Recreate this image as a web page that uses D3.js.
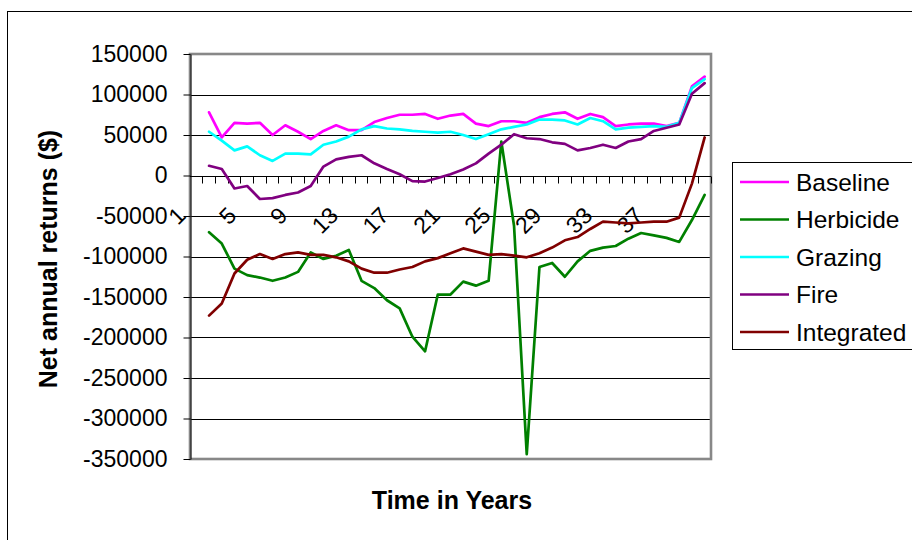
<!DOCTYPE html>
<html>
<head>
<meta charset="utf-8">
<script src="https://cdn.jsdelivr.net/npm/d3@7"></script>
<style>
  html, body { margin: 0; padding: 0; background: #fff; }
  svg { display: block; font-family: "Liberation Sans", Arial, sans-serif; }
</style>
</head>
<body>
<svg id="chart" width="912" height="540"></svg>
<script>
// Net annual returns by management strategy, years 1-40
const years = d3.range(1, 41);

const baseline = [78000, 47000, 65000, 64000, 65000, 50000, 62000, 54000, 45000, 55000,
  62000, 56000, 56000, 66000, 71000, 75000, 75000, 76000, 70000, 74000,
  76000, 64000, 61000, 67000, 67000, 65000, 72000, 76000, 78000, 70000,
  76000, 72000, 61000, 63000, 64000, 64000, 61000, 65000, 110000, 122000];

const herbicide = [-70000, -84000, -115000, -123000, -126000, -130000, -126000, -119000, -95000, -103000,
  -99000, -92000, -130000, -139000, -154000, -164000, -199000, -217000, -147000, -147000,
  -131000, -136000, -130000, 42000, -62000, -344000, -113000, -108000, -125000, -106000,
  -93000, -89000, -87000, -78000, -71000, -74000, -77000, -82000, -55000, -24000];

const grazing = [54000, 43000, 31000, 36000, 25000, 18000, 27000, 27000, 26000, 38000,
  42000, 48000, 57000, 61000, 58000, 57000, 55000, 54000, 53000, 54000,
  50000, 45000, 51000, 57000, 60000, 63000, 69000, 69000, 68000, 63000,
  71000, 67000, 57000, 59000, 60000, 61000, 60000, 65000, 108000, 119000];

const fire = [12000, 8000, -16000, -13000, -29000, -28000, -24000, -21000, -13000, 11000,
  20000, 23000, 25000, 15000, 8000, 1500, -7000, -7500, -3000, 1500,
  7500, 15000, 27000, 38000, 51000, 46000, 45000, 41000, 39000, 31000,
  34000, 38000, 34000, 42000, 45000, 55000, 59000, 63000, 101000, 114000];

const integrated = [-173000, -158000, -121000, -104000, -97000, -103000, -97000, -95000, -98000, -98000,
  -101000, -106000, -115000, -120000, -120000, -116000, -113000, -106000, -102000, -96000,
  -90000, -94000, -98000, -97000, -99000, -101000, -96000, -89000, -80000, -76000,
  -66000, -57000, -58000, -59000, -58000, -57000, -57000, -52000, -10000, 47000];

const seriesNames = ["Baseline", "Herbicide", "Grazing", "Fire", "Integrated"];
const seriesValues = [baseline, herbicide, grazing, fire, integrated];
const seriesColors = ["#FF00FF", "#008000", "#00FFFF", "#800080", "#800000"];

const yTickValues = [150000, 100000, 50000, 0, -50000, -100000, -150000, -200000, -250000, -300000, -350000];
const xLabelYears = [1, 5, 9, 13, 17, 21, 25, 29, 33, 37];

const svg = d3.select("#chart");
const plot = { left: 190, right: 711, top: 54, bottom: 459 };

// Category slots: an empty slot precedes year 1
const x = d3.scaleBand().domain([0, ...years]).range([plot.left, plot.right]).padding(0);
const xc = yr => x(yr) + x.bandwidth() / 2;
const y = d3.scaleLinear().domain([-350000, 150000]).range([plot.bottom, plot.top]);
const snap = v => Math.round(v) + 0.5;

// Chart area frame
svg.append("rect")
  .attr("x", 7.5).attr("y", 11.5).attr("width", 1000).attr("height", 1000)
  .attr("fill", "#fff").attr("stroke", "#000").attr("stroke-width", 1);

// Horizontal gridlines
svg.append("g").selectAll("line")
  .data(yTickValues.filter(v => v < 150000 && v > -350000))
  .join("line")
  .attr("x1", plot.left).attr("x2", plot.right)
  .attr("y1", d => snap(y(d))).attr("y2", d => snap(y(d)))
  .attr("stroke", "#000").attr("stroke-width", 1);

// Plot area border
svg.append("rect")
  .attr("x", plot.left).attr("y", plot.top)
  .attr("width", plot.right - plot.left).attr("height", plot.bottom - plot.top)
  .attr("fill", "none").attr("stroke", "#888").attr("stroke-width", 2.6);

// Value axis
const yAxis = d3.axisLeft(y)
  .tickValues(yTickValues)
  .tickFormat(d => String(d))
  .tickSizeInner(7).tickSizeOuter(0).tickPadding(16);
const gy = svg.append("g").attr("transform", `translate(${plot.left + 0.5},0)`).call(yAxis);
gy.select(".domain").attr("stroke", "#000");
gy.selectAll(".tick line").attr("stroke", "#000");
gy.selectAll(".tick text").attr("font-size", 23).attr("fill", "#000")
  .attr("font-family", "'Liberation Sans', Arial, sans-serif");

// Category axis along zero, with tick marks on slot boundaries
const zeroY = snap(y(0));
svg.append("line")
  .attr("x1", plot.left).attr("x2", plot.right)
  .attr("y1", zeroY).attr("y2", zeroY)
  .attr("stroke", "#000").attr("stroke-width", 1);
svg.append("g").selectAll("line")
  .data(d3.range(1, x.domain().length + 1))
  .join("line")
  .attr("x1", i => snap(plot.left + i * x.step() - 0.5))
  .attr("x2", i => snap(plot.left + i * x.step() - 0.5))
  .attr("y1", zeroY).attr("y2", zeroY + 7)
  .attr("stroke", "#000").attr("stroke-width", 1);

svg.append("g").selectAll("text")
  .data(xLabelYears)
  .join("text")
  .attr("transform", d => `translate(${xc(d) - 22},217) rotate(-45)`)
  .attr("text-anchor", "end")
  .attr("font-size", 23)
  .attr("fill", "#000")
  .text(d => d);

// Series lines
const line = d3.line()
  .x((d, i) => xc(years[i]))
  .y(d => y(d));

svg.append("g").selectAll("path")
  .data(seriesValues)
  .join("path")
  .attr("d", d => line(d))
  .attr("fill", "none")
  .attr("stroke", (d, i) => seriesColors[i])
  .attr("stroke-width", 2.7)
  .attr("stroke-linejoin", "round")
  .attr("stroke-linecap", "round");

// Axis titles
svg.append("text")
  .attr("x", 452).attr("y", 509)
  .attr("text-anchor", "middle")
  .attr("font-size", 25).attr("font-weight", "bold")
  .text("Time in Years");

svg.append("text")
  .attr("transform", "translate(57,259) rotate(-90)")
  .attr("text-anchor", "middle")
  .attr("font-size", 25).attr("font-weight", "bold")
  .text("Net annual returns ($)");

// Legend
const legend = svg.append("g");
legend.append("rect")
  .attr("x", 732.5).attr("y", 162.5).attr("width", 300).attr("height", 187)
  .attr("fill", "#fff").attr("stroke", "#000").attr("stroke-width", 1);
const rowY = d3.scalePoint().domain(seriesNames).range([182, 332]);
const items = legend.selectAll("g").data(seriesNames).join("g")
  .attr("transform", d => `translate(0,${rowY(d)})`);
items.append("line")
  .attr("x1", 740).attr("x2", 789).attr("y1", 0).attr("y2", 0)
  .attr("stroke", (d, i) => seriesColors[i]).attr("stroke-width", 2.7);
items.append("text")
  .attr("x", 796).attr("y", 0).attr("dy", "0.36em")
  .attr("font-size", 24.5).attr("fill", "#000")
  .text(d => d);
</script>
</body>
</html>
